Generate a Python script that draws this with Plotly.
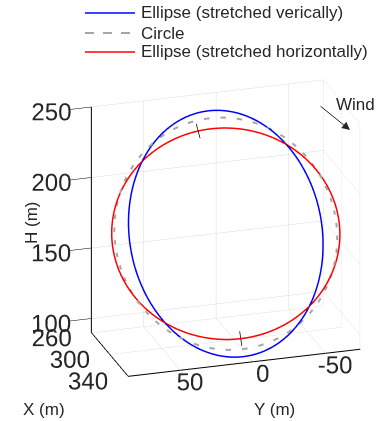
import numpy as np
import plotly.graph_objects as go

# ---- data ----
curve_names = ["Ellipse (stretched verically)", "Circle", "Ellipse (stretched horizontally)"]
curve_colors = ["#0000ff", "#a6a6a6", "#ff0000"]
curve_dash = ["solid", "dash", "solid"]
semi_axis_y = [66.0, 76.0, 78.0]    # half-width along Y (m)
semi_axis_up = [82.0, 77.0, 70.0]   # half-height inside the loop plane (m)
loop_center_x = 300.0
loop_center_y = 6.0
loop_center_h = 166.0
plane_tilt_deg = 28.0               # loop plane tilted back from vertical
marker_angles_deg = [6.5, 180.0]    # small tick marks on the red ellipse

x_ticks = [260, 300, 340]
x_ticktext = ["260", "300", "340"]
y_ticks = [-50, 0, 50]
y_ticktext = ["-50", "0", "50"]
h_ticks = [100, 150, 200, 250]
h_ticktext = ["100", "150", "200", "250"]
x_range = [259.5, 340.5]
y_range = [-74, 86]
h_range = [90, 250]

FONT = "Liberation Sans, Arial, sans-serif"
TXT = "#262626"

tilt = np.radians(plane_tilt_deg)
phi = np.radians(np.arange(0, 361, 1.0))


def loop_points(a, b, ang):
    up = b * np.cos(ang)
    Y = loop_center_y + a * np.sin(ang)
    X = loop_center_x - up * np.sin(tilt)
    H = loop_center_h + up * np.cos(tilt)
    return X, Y, H


fig = go.Figure()
for name, col, dash, a, b in zip(curve_names, curve_colors, curve_dash, semi_axis_y, semi_axis_up):
    X, Y, H = loop_points(a, b, phi)
    fig.add_trace(go.Scatter3d(
        x=Y, y=X, z=H, mode="lines", name=name, showlegend=False,
        line=dict(color=col, width=4 if dash == "dash" else 3, dash=dash),
        hoverinfo="skip"))

# small black tick marks crossing the red ellipse
for ang in np.radians(marker_angles_deg):
    a, b = semi_axis_y[2], semi_axis_up[2]
    Xs, Ys, Hs = [], [], []
    for f in (0.93, 1.07):
        X, Y, H = loop_points(a * f, b * f, np.array([ang]))
        Xs.append(X[0]); Ys.append(Y[0]); Hs.append(H[0])
    fig.add_trace(go.Scatter3d(x=Ys, y=Xs, z=Hs, mode="lines", showlegend=False,
                               line=dict(color="black", width=1.5), hoverinfo="skip"))

axis_common = dict(
    showbackground=False, showgrid=True, gridcolor="#dcdcdc", gridwidth=1,
    zeroline=False, showline=True, linecolor="black", linewidth=2,
    ticks="outside", tickangle=0,
    tickfont=dict(family=FONT, size=17, color=TXT),
    showspikes=False, title=dict(text=""),
)

alpha = np.radians(24.0)
elev = np.radians(22.0)
k = 1.8
eye = dict(x=k * np.sin(alpha) * np.cos(elev), y=k * np.cos(alpha) * np.cos(elev), z=k * np.sin(elev))
zoom = 1.25 / 160.0
shift = 0.193
center = dict(x=shift * np.cos(alpha), y=-shift * np.sin(alpha), z=0)

W, Hh = 377, 421
fig.update_layout(
    width=W, height=Hh,
    margin=dict(l=0, r=0, t=0, b=0),
    paper_bgcolor="white",
    showlegend=False,
    font=dict(family=FONT, size=17, color=TXT),
    scene=dict(
        domain=dict(x=[0.0, 1.0], y=[0.0, 0.924]),
        xaxis=dict(range=y_range, tickvals=y_ticks, ticktext=y_ticktext, ticklen=24,
                   tickcolor="rgba(0,0,0,0)", **axis_common),
        yaxis=dict(range=x_range, tickvals=x_ticks, ticktext=x_ticktext, ticklen=14,
                   tickcolor="rgba(0,0,0,0)", **axis_common),
        zaxis=dict(range=h_range, tickvals=h_ticks, ticktext=h_ticktext, ticklen=2,
                   tickcolor="black", **axis_common),
        aspectmode="manual",
        aspectratio=dict(x=(y_range[1] - y_range[0]) * zoom, y=(x_range[1] - x_range[0]) * zoom,
                         z=(h_range[1] - h_range[0]) * zoom),
        camera=dict(eye=eye, up=dict(x=0, y=0, z=1), center=center,
                    projection=dict(type="orthographic")),
    ),
)

# legend drawn as line samples + labels
legend_rows_px = [13, 33, 52]
for name, col, dash, ypx in zip(curve_names, curve_colors, curve_dash, legend_rows_px):
    fig.add_shape(type="line", xref="paper", yref="paper",
                  x0=85 / W, x1=135 / W, y0=1 - ypx / Hh, y1=1 - ypx / Hh,
                  line=dict(color=col, width=2 if dash == "dash" else 1.6, dash=dash))
    fig.add_annotation(xref="paper", yref="paper", showarrow=False, text=name,
                       x=139 / W, y=1 - ypx / Hh, xanchor="left", yanchor="middle",
                       font=dict(family=FONT, size=17, color=TXT))

ann = [
    dict(text="X (m)", x=44 / W, y=1 - 409 / Hh),
    dict(text="Y (m)", x=274 / W, y=1 - 409 / Hh),
    dict(text="H (m)", x=31 / W, y=1 - 223 / Hh, textangle=-90),
    dict(text="Wind", x=355 / W, y=1 - 105 / Hh),
]
for a_ in ann:
    fig.add_annotation(xref="paper", yref="paper", showarrow=False,
                       font=dict(family=FONT, size=17, color=TXT),
                       xanchor="center", yanchor="middle", **a_)
fig.add_annotation(xref="paper", yref="paper", axref="pixel", ayref="pixel",
                   x=350 / W, y=1 - 130 / Hh, ax=-31, ay=-25,
                   text="", showarrow=True, arrowhead=2, arrowsize=1.6, arrowwidth=1,
                   arrowcolor=TXT)

fig.write_html("out.html", post_script="document.body.style.margin='0';",
               config={"displayModeBar": False})
